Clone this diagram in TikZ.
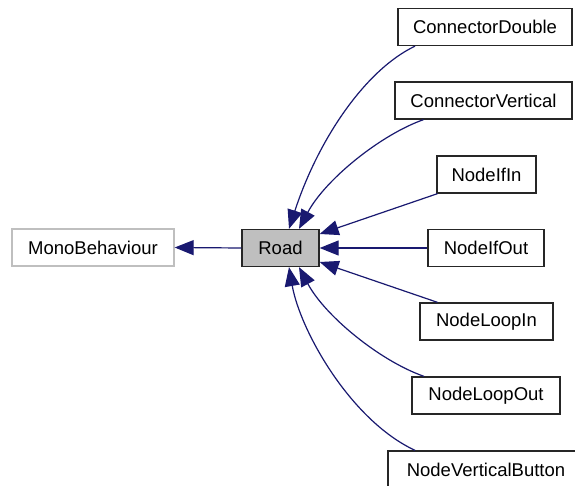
\documentclass[tikz,border=0pt]{standalone}
\usepackage{fontspec}
\setmainfont{Liberation Sans}
\usetikzlibrary{arrows.meta}
\definecolor{edgeblue}{RGB}{25,25,112}
\tikzset{
  >={Triangle[length=19pt,width=15pt]},
  class/.style = {draw=black!85, line width=1.3pt, fill=white,
                  minimum height=37pt, inner sep=0pt,
                  font=\fontsize{18.5}{21}\selectfont},
  current/.style = {class, fill=black!25},
  external/.style = {class, draw=black!25},
  inherit/.style = {->, edgeblue, line width=1.2pt},
}
\begin{document}
\begin{tikzpicture}[x=1pt,y=-1pt]
\useasboundingbox[fill=white] (0,0) rectangle (575,486);
\node[external, minimum width=162pt] (mono) at (93,247.5) {MonoBehaviour};
\node[current, minimum width=77pt] (road) at (280.5,248) {Road};
\node[class, minimum width=174pt] (cd) at (485,27) {ConnectorDouble};
\node[class, minimum width=177pt] (cv) at (483.5,100.5) {ConnectorVertical};
\node[class, minimum width=99pt] (ifin) at (486.5,174.5) {NodeIfIn};
\node[class, minimum width=116pt] (ifout) at (486,248) {NodeIfOut};
\node[class, minimum width=133pt] (loopin) at (486.5,321.5) {NodeLoopIn};
\node[class, minimum width=148pt] (loopout) at (486,395.5) {NodeLoopOut};
\node[class, minimum width=196pt] (vbutton) at (486,469.5) {NodeVerticalButton};
% base class
\draw[inherit] (road.west) -- (mono.east);
% derived classes
\draw[inherit] ([xshift=-70]cd.south) .. controls (365,70) and (318,140) .. ([xshift=8.5]road.north);
\draw[inherit] ([xshift=-60]cv.south) .. controls (380,135) and (325,180) .. ([xshift=18.5]road.north);
\draw[inherit] ([xshift=-49]ifin.south) -- ([yshift=14]road.east);
\draw[inherit] (ifout.west) -- (road.east);
\draw[inherit] ([xshift=-49]loopin.north) -- ([yshift=-14]road.east);
\draw[inherit] ([xshift=-62]loopout.north) .. controls (380,361) and (325,316) .. ([xshift=18.5]road.south);
\draw[inherit] ([xshift=-71]vbutton.north) .. controls (350,420) and (300,330) .. ([xshift=8.5]road.south);
\end{tikzpicture}
\end{document}
